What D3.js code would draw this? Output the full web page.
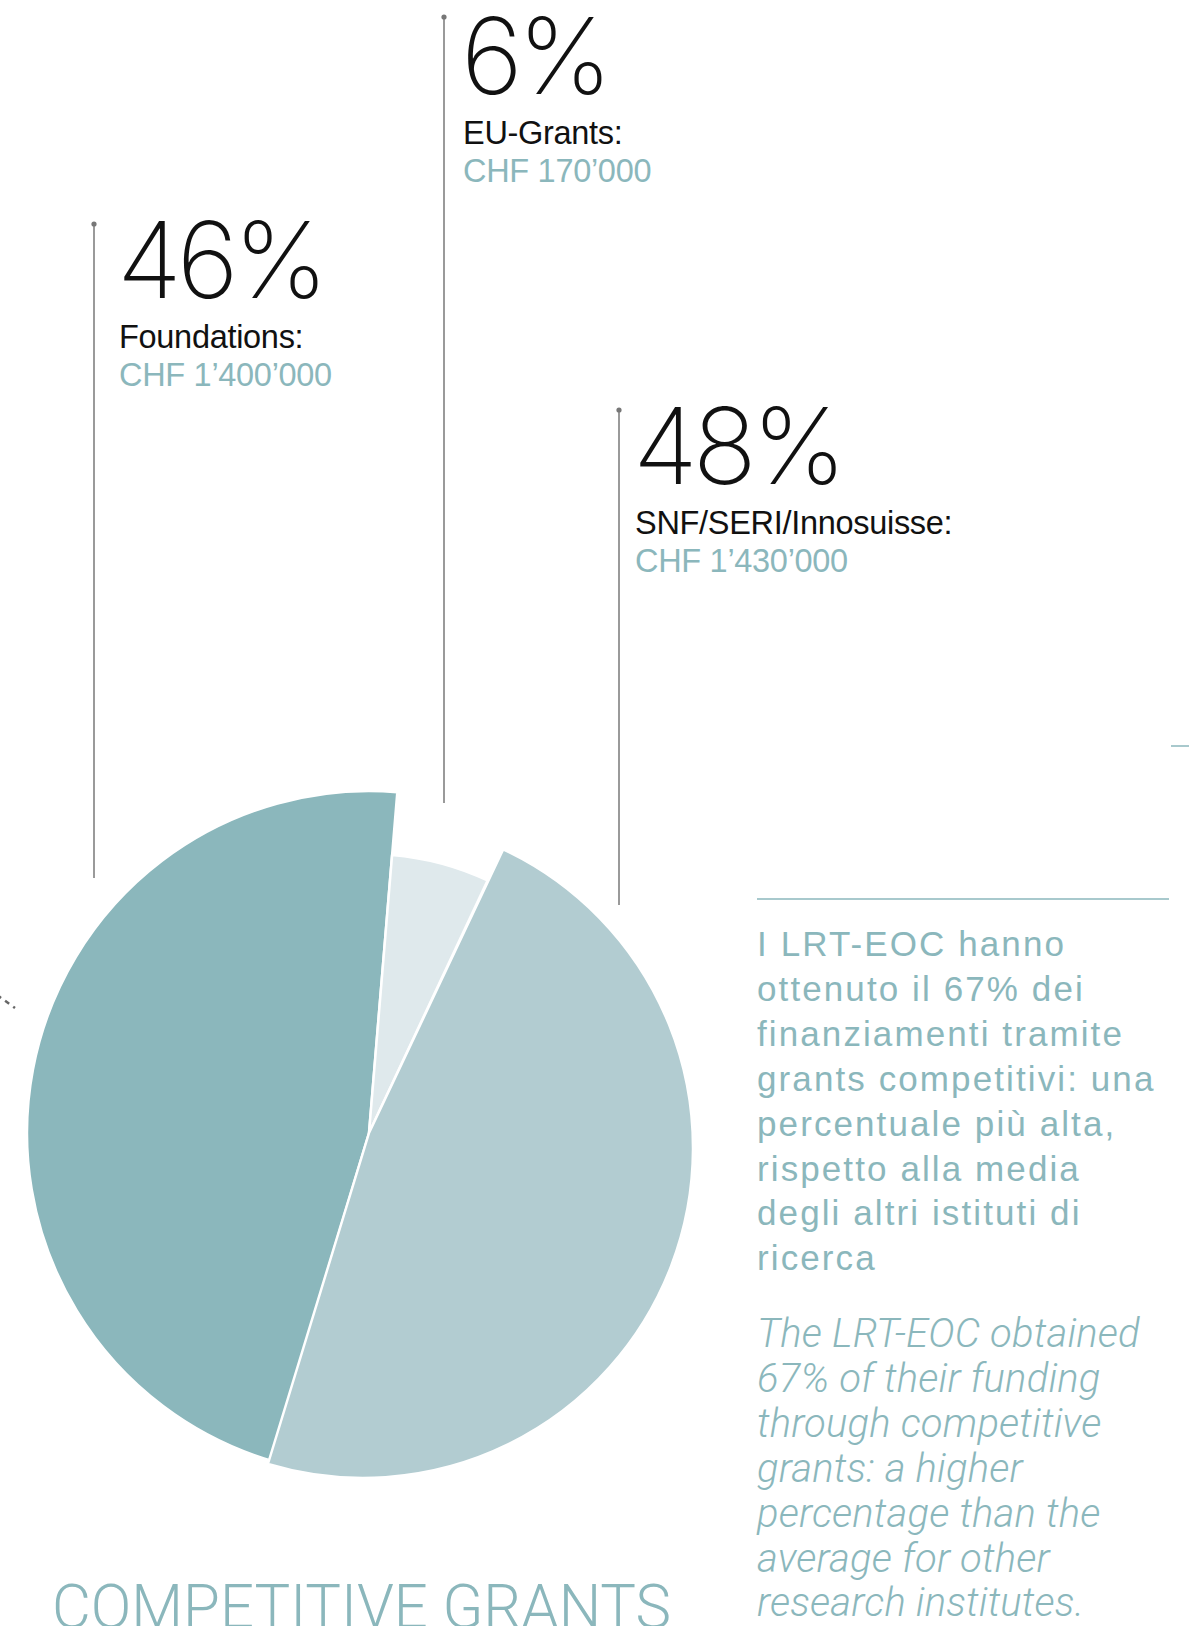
<!DOCTYPE html>
<html>
<head>
  <meta charset="utf-8">
  <title>Competitive grants</title>
  <style>
    body { margin: 0; background: #fff; }
    svg { display: block; }
  </style>
</head>
<body>
  <svg width="1189" height="1626"></svg>
  <script src="https://d3js.org/d3.v7.min.js"></script>
  <script>
  // data
  var categories = ['Foundations', 'EU-Grants', 'SNF/SERI/Innosuisse'];
  var amounts = [1400000, 170000, 1430000];
  var percents = [46, 6, 48];
  var amountLabels = ['CHF 1’400’000', 'CHF 170’000', 'CHF 1’430’000'];

  var textIt = ['I LRT-EOC hanno', 'ottenuto il 67% dei', 'finanziamenti tramite',
    'grants competitivi: una', 'percentuale più alta,', 'rispetto alla media',
    'degli altri istituti di', 'ricerca'];
  var textEn = ['The LRT-EOC obtained', '67% of their funding', 'through competitive',
    'grants: a higher', 'percentage than the', 'average for other', 'research institutes.'];

  // layout (per slice: arc centre offset from the apex, radius, colour, label place)
  var apex = [369, 1133];
  var look = [
    { r: 342, dx: 0, dy: 0, fill: '#8bb7bc', lx: 94, top: 224, bottom: 878, tx: 119, ty: 298 },
    { r: 279, dx: 0, dy: 0, fill: '#dfe9ec', lx: 444, top: 17, bottom: 803, tx: 463, ty: 94 },
    { r: 330, dx: -6, dy: 15, fill: '#b2ccd1', lx: 619, top: 410, bottom: 905, tx: 635, ty: 484 }
  ];
  var teal = '#8bb7bc';
  var grey = '#9a9a9a';

  var svg = d3.select('svg');

  var start = 196.75 * Math.PI / 180;
  var pie = d3.pie()
    .sort(null)
    .startAngle(start)
    .endAngle(start + 2 * Math.PI);

  var slices = pie(amounts);

  function slicePath(d, i) {
    var o = look[i];
    var cx = apex[0] + o.dx, cy = apex[1] + o.dy;
    var p = d3.path();
    p.moveTo(apex[0], apex[1]);
    p.lineTo(cx + o.r * Math.sin(d.startAngle), cy - o.r * Math.cos(d.startAngle));
    p.arc(cx, cy, o.r, d.startAngle - Math.PI / 2, d.endAngle - Math.PI / 2);
    p.closePath();
    return p.toString();
  }

  svg.append('g')
    .selectAll('path')
    .data(slices)
    .enter()
    .append('path')
    .attr('d', slicePath)
    .attr('fill', function(d, i) { return look[i].fill; })
    .attr('stroke', '#fff')
    .attr('stroke-width', 2.5)
    .attr('stroke-linejoin', 'round');

  // leader lines
  var lead = svg.append('g')
    .selectAll('g')
    .data(categories)
    .enter()
    .append('g');

  lead.append('line')
    .attr('x1', function(d, i) { return look[i].lx; })
    .attr('x2', function(d, i) { return look[i].lx; })
    .attr('y1', function(d, i) { return look[i].top; })
    .attr('y2', function(d, i) { return look[i].bottom; })
    .attr('stroke', grey)
    .attr('stroke-width', 2);

  lead.append('circle')
    .attr('cx', function(d, i) { return look[i].lx; })
    .attr('cy', function(d, i) { return look[i].top; })
    .attr('r', 2.6)
    .attr('fill', '#777');

  lead.append('text')
    .attr('x', function(d, i) { return look[i].tx - 2; })
    .attr('y', function(d, i) { return look[i].ty; })
    .attr('font-family', 'Inter, Roboto, sans-serif')
    .attr('font-weight', 200)
    .attr('font-size', 106)
    .attr('letter-spacing', -5)
    .attr('fill', '#111')
    .text(function(d, i) { return percents[i] + '%'; });

  lead.append('text')
    .attr('x', function(d, i) { return look[i].tx; })
    .attr('y', function(d, i) { return look[i].ty + 50; })
    .attr('font-family', '"Liberation Sans", Arial, sans-serif')
    .attr('font-size', 32.5)
    .attr('letter-spacing', -0.3)
    .attr('fill', '#111')
    .text(function(d) { return d + ':'; });

  lead.append('text')
    .attr('x', function(d, i) { return look[i].tx; })
    .attr('y', function(d, i) { return look[i].ty + 88; })
    .attr('font-family', '"Liberation Sans", Arial, sans-serif')
    .attr('font-size', 32.5)
    .attr('letter-spacing', -0.3)
    .attr('fill', teal)
    .text(function(d, i) { return amountLabels[i]; });

  // small dashed stub on the left edge
  svg.append('line')
    .attr('x1', -3).attr('y1', 995)
    .attr('x2', 15).attr('y2', 1008)
    .attr('stroke', '#666')
    .attr('stroke-width', 2.5)
    .attr('stroke-dasharray', '5,5');

  // rules on the right
  svg.append('line')
    .attr('x1', 1171).attr('x2', 1189).attr('y1', 746).attr('y2', 746)
    .attr('stroke', teal).attr('stroke-width', 1.5);
  svg.append('line')
    .attr('x1', 757).attr('x2', 1169).attr('y1', 899).attr('y2', 899)
    .attr('stroke', teal).attr('stroke-width', 1.5);

  svg.append('g')
    .selectAll('text')
    .data(textIt)
    .enter()
    .append('text')
    .attr('x', 757)
    .attr('y', function(d, i) { return 956 + i * 44.9; })
    .attr('font-family', '"Liberation Sans", Arial, sans-serif')
    .attr('font-size', 35)
    .attr('letter-spacing', 2.1)
    .attr('fill', teal)
    .text(function(d) { return d; });

  svg.append('g')
    .selectAll('text')
    .data(textEn)
    .enter()
    .append('text')
    .attr('x', 757)
    .attr('y', function(d, i) { return 1347 + i * 44.9; })
    .attr('font-family', 'Roboto, sans-serif')
    .attr('font-weight', 300)
    .attr('font-style', 'italic')
    .attr('font-size', 40)
    .attr('letter-spacing', 0.2)
    .attr('fill', teal)
    .text(function(d) { return d; });

  svg.append('text')
    .attr('x', 52)
    .attr('y', 1628)
    .attr('font-family', 'Roboto, sans-serif')
    .attr('font-weight', 300)
    .attr('font-size', 62)
    .attr('textLength', 619)
    .attr('lengthAdjust', 'spacingAndGlyphs')
    .attr('fill', teal)
    .text('COMPETITIVE GRANTS');
  </script>
</body>
</html>
